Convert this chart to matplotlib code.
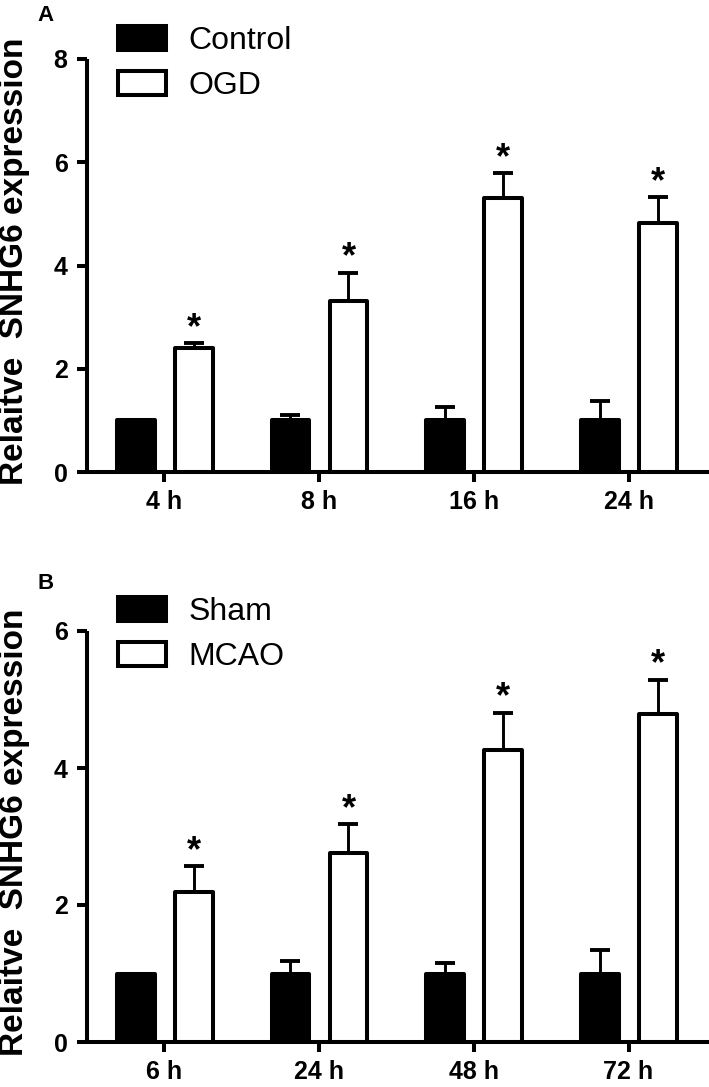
import numpy as np
import matplotlib
matplotlib.use("Agg")
import matplotlib.pyplot as plt

plt.rcParams['font.family'] = ['Liberation Sans', 'DejaVu Sans']

# Panel A: in vitro (OGD)
times_a = ["4 h", "8 h", "16 h", "24 h"]
control = [1.0, 1.0, 1.0, 1.0]
control_err = [0.0, 0.11, 0.25, 0.37]
ogd = [2.40, 3.32, 5.30, 4.82]
ogd_err = [0.10, 0.54, 0.49, 0.50]

# Panel B: in vivo (MCAO)
times_b = ["6 h", "24 h", "48 h", "72 h"]
sham = [1.0, 1.0, 1.0, 1.0]
sham_err = [0.0, 0.18, 0.16, 0.34]
mcao = [2.19, 2.76, 4.26, 4.79]
mcao_err = [0.38, 0.42, 0.55, 0.50]

ylabel = "Relaitve  SNHG6 expression"

W, H = 709, 1087
fig = plt.figure(figsize=(W / 100, H / 100), dpi=100)

LW = 2.9
width = 0.245


def panel(rect, labels, ctl, ctl_err, trt, trt_err, names, ymax, step, letter, letter_y, leg_top):
    ax = fig.add_axes(rect)
    x = np.arange(len(labels))
    b1 = ax.bar(x - 0.185, ctl, width, color='black', edgecolor='black', linewidth=LW, zorder=2, label=names[0])
    b2 = ax.bar(x + 0.19, trt, width, color='white', edgecolor='black', linewidth=LW, zorder=2, label=names[1])
    for b in list(b1) + list(b2):
        b.set_joinstyle('round')
    # upward error bars only
    for xs, v, e in [(x - 0.185, ctl, ctl_err), (x + 0.19, trt, trt_err)]:
        ax.errorbar(xs, v, yerr=[np.zeros(len(e)), e], fmt='none', ecolor='black',
                    elinewidth=2.1, capsize=7, capthick=2.8, zorder=1)
    for xi, v, e in zip(x + 0.19, trt, trt_err):
        ax.annotate("*", (xi, v + e), xytext=(0, -2), textcoords='offset points',
                    ha='center', va='bottom', fontsize=26, fontweight='bold')
    ax.set_xlim(-0.5, 3.52)
    ax.set_ylim(0, ymax)
    ax.set_yticks(np.arange(0, ymax + 0.1, step))
    ax.set_xticks(x)
    ax.set_xticklabels(labels)
    for s in ['top', 'right']:
        ax.spines[s].set_visible(False)
    for s in ['left', 'bottom']:
        ax.spines[s].set_linewidth(LW)
        ax.spines[s].set_capstyle('butt')
    ax.tick_params(axis='y', length=7, width=LW, pad=7, labelsize=18)
    ax.tick_params(axis='x', length=7, width=LW, pad=6, labelsize=18)
    for t in ax.get_xticklabels() + ax.get_yticklabels():
        t.set_fontweight('bold')
    ax.set_ylabel(ylabel, fontsize=24, fontweight='bold')
    ax.yaxis.set_label_coords(-0.092, 0.51)
    ax.legend(handles=[b1, b2], loc='upper left', bbox_to_anchor=(118 / W, 1 - leg_top / H),
              bbox_transform=fig.transFigure, frameon=False, fontsize=23,
              handlelength=1.5, handleheight=0.8, handletextpad=0.7, labelspacing=0.45,
              borderpad=0, borderaxespad=0)
    fig.text(46 / W, 1 - letter_y / H, letter, fontsize=16, fontweight='bold',
             ha='center', va='top')
    return ax


panel([87 / W, 1 - 472 / H, 622 / W, 413 / H], times_a, control, control_err, ogd, ogd_err,
      ["Control", "OGD"], 8, 2, "A", 5, 26)
panel([87 / W, 1 - 1042 / H, 622 / W, 411 / H], times_b, sham, sham_err, mcao, mcao_err,
      ["Sham", "MCAO"], 6, 2, "B", 573, 597)

fig.savefig("out.png", dpi=100)
